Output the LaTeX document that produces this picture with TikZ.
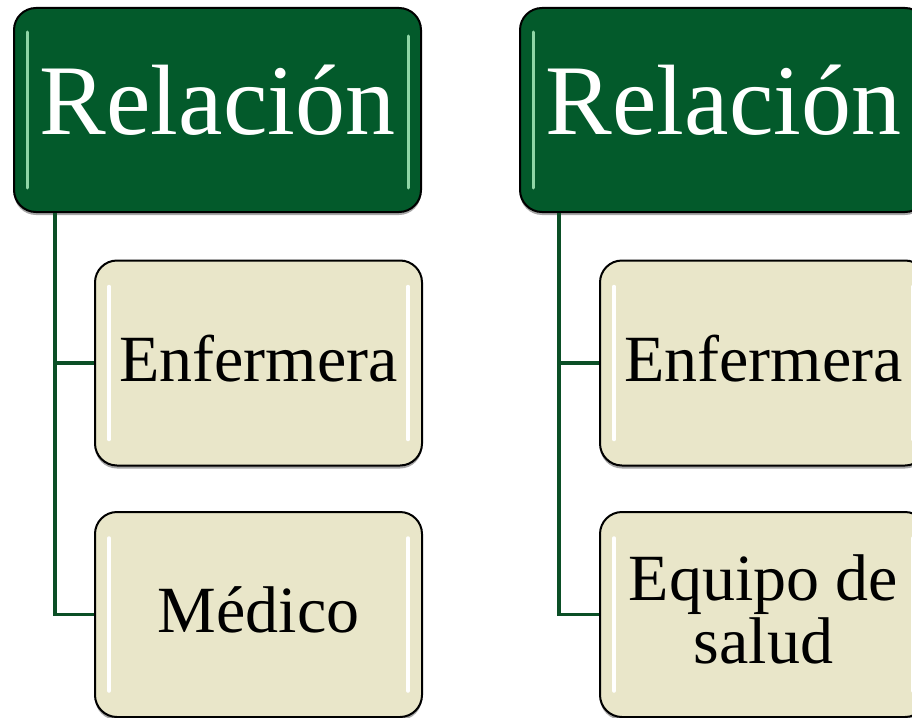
\documentclass[tikz,border=0pt]{standalone}
\usepackage{fontspec}
\setmainfont{Liberation Serif}
\usetikzlibrary{calc,shadows}
\definecolor{hdrgreen}{HTML}{035A2B}
\definecolor{linegreen}{HTML}{0B4F26}
\definecolor{childfill}{HTML}{E9E6C9}
\definecolor{glintgreen}{HTML}{8FD6A6}
\tikzset{
  box/.style={draw=black, line width=2pt, rounded corners=22pt, inner sep=0pt,
    drop shadow={shadow xshift=0pt, shadow yshift=-3pt, opacity=0.35, fill=black}},
  hdrbox/.style={box, fill=hdrgreen, text=white, minimum width=407pt, minimum height=204pt,
    font=\fontsize{100}{100}\selectfont, text depth=20pt,
    path picture={
      \draw[glintgreen, line width=3pt, line cap=round]
        ([xshift=13pt,yshift=-24pt]path picture bounding box.north west) --
        ([xshift=13pt,yshift=24pt]path picture bounding box.south west);
      \draw[glintgreen, line width=3pt, line cap=round]
        ([xshift=-13pt,yshift=-28pt]path picture bounding box.north east) --
        ([xshift=-13pt,yshift=24pt]path picture bounding box.south east);}},
  childbox/.style={box, fill=childfill, text=black, minimum width=327pt, minimum height=205pt,
    align=center, font=\fontsize{66}{63}\selectfont, text depth=10pt,
    path picture={
      \draw[white, line width=3.5pt, line cap=round]
        ([xshift=14pt,yshift=-26pt]path picture bounding box.north west) --
        ([xshift=14pt,yshift=26pt]path picture bounding box.south west);
      \draw[white, line width=3.5pt, line cap=round]
        ([xshift=-14pt,yshift=-26pt]path picture bounding box.north east) --
        ([xshift=-14pt,yshift=26pt]path picture bounding box.south east);}},
  conn/.style={draw=linegreen, line width=3.5pt}
}
\begin{document}
\begin{tikzpicture}[x=1pt,y=-1pt]
\useasboundingbox (0,0) rectangle (912,717);
\clip (0,0) rectangle (912,717);
\fill[white] (0,0) rectangle (912,717);
% left column
\node[hdrbox] (h1) at (217.5,110) {Relación};
\node[childbox] (c11) at (258.5,363) {Enfermera};
\node[childbox] (c12) at (258.5,614.5) {Médico};
\coordinate (t1) at ($(h1.south west)+(42,0)$);
\draw[conn] (t1) |- (c11.west);
\draw[conn] (t1) |- (c12.west);
% right column
\node[hdrbox] (h2) at (723.5,110) {Relación};
\node[childbox] (c21) at (763.5,363) {Enfermera};
\node[childbox] (c22) at (763.5,614.5) {Equipo de\\salud};
\coordinate (t2) at ($(h2.south west)+(40,0)$);
\draw[conn] (t2) |- (c21.west);
\draw[conn] (t2) |- (c22.west);
\end{tikzpicture}
\end{document}
